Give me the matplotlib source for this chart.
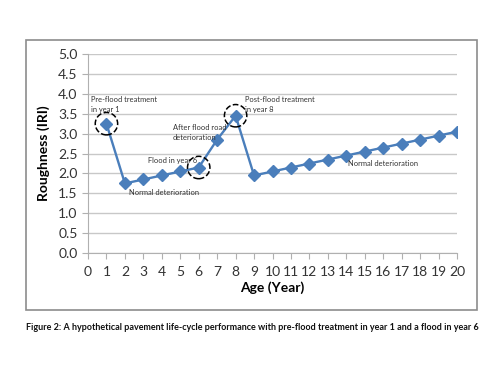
import matplotlib
matplotlib.use('Agg')
import matplotlib.pyplot as plt
from matplotlib.patches import Rectangle

plt.rcParams['font.family'] = ['Lato', 'DejaVu Sans']

# data
years = [1, 2, 3, 4, 5, 6, 7, 8, 9, 10, 11, 12, 13, 14, 15, 16, 17, 18, 19, 20]
roughness = [3.25, 1.75, 1.85, 1.95, 2.05, 2.15, 2.85, 3.45, 1.95, 2.05,
             2.15, 2.25, 2.35, 2.45, 2.55, 2.65, 2.75, 2.85, 2.95, 3.05]
circled_years = [1, 6, 8]
x_ticks = list(range(0, 21))
y_ticks = [0.0, 0.5, 1.0, 1.5, 2.0, 2.5, 3.0, 3.5, 4.0, 4.5, 5.0]
caption = ('Figure 2: A hypothetical pavement life-cycle performance with '
           'pre-flood treatment in year 1 and a flood in year 6')

fig = plt.figure(figsize=(5, 3.75), dpi=100)
ax = fig.add_axes([0.176, 0.325, 0.738, 0.531])

# outer chart box
fig.patches.append(Rectangle((26 / 500, 1 - 310 / 375), 451 / 500, 270 / 375,
                             transform=fig.transFigure, fill=False,
                             edgecolor='#8c8c8c', linewidth=1.2))

blue = '#4A7EBB'
ax.plot(years, roughness, color=blue, linewidth=1.7, marker='D', markersize=6.5,
        markerfacecolor=blue, markeredgecolor=blue, zorder=3)

# dashed circles round the key points
cy = [roughness[years.index(y)] for y in circled_years]
ax.scatter(circled_years, cy, s=260, facecolors='none', edgecolors='black',
           linestyles='--', linewidths=1.1, zorder=4)

ax.set_xlim(0, 20)
ax.set_ylim(0, 5)
ax.set_xticks(x_ticks)
ax.set_yticks(y_ticks)
ax.set_yticklabels([f'{v:.1f}' for v in y_ticks])
ax.grid(axis='y', color='#c8c8c8', linewidth=1)
ax.set_axisbelow(True)
for s in ['top', 'right']:
    ax.spines[s].set_visible(False)
ax.spines['left'].set_color('#b0b0b0')
ax.spines['bottom'].set_color('#b0b0b0')
ax.tick_params(axis='both', colors='#b0b0b0', labelcolor='#333333',
               labelsize=10, length=4)
ax.tick_params(axis='x', pad=5)

ax.set_xlabel('Age (Year)', fontsize=10, fontweight='bold', labelpad=3)
ax.set_ylabel('Roughness (IRI)', fontsize=10, fontweight='bold', labelpad=6)

# annotations
fs = 5.4
ax.text(0.15, 3.95, 'Pre-flood treatment\nin year 1', fontsize=fs,
        va='top', ha='left', color='#333333', linespacing=1.5)
ax.text(2.2, 1.6, 'Normal deterioration', fontsize=fs,
        va='top', ha='left', color='#333333')
ax.text(3.25, 2.25, 'Flood in year 6', fontsize=fs,
        va='bottom', ha='left', color='#333333')
ax.text(4.6, 3.25, 'After flood road\ndeterioration', fontsize=fs,
        va='top', ha='left', color='#333333', linespacing=1.5)
ax.text(8.5, 3.95, 'Post-flood treatment\nin year 8', fontsize=fs,
        va='top', ha='left', color='#333333', linespacing=1.5)
ax.text(14.1, 2.35, 'Normal deterioration', fontsize=fs,
        va='top', ha='left', color='#333333')

fig.text(0.504, 1 - 327 / 375, caption, fontsize=6.5, fontweight='bold',
         ha='center', va='center', color='#111111')

fig.savefig('out.png', dpi=100)
